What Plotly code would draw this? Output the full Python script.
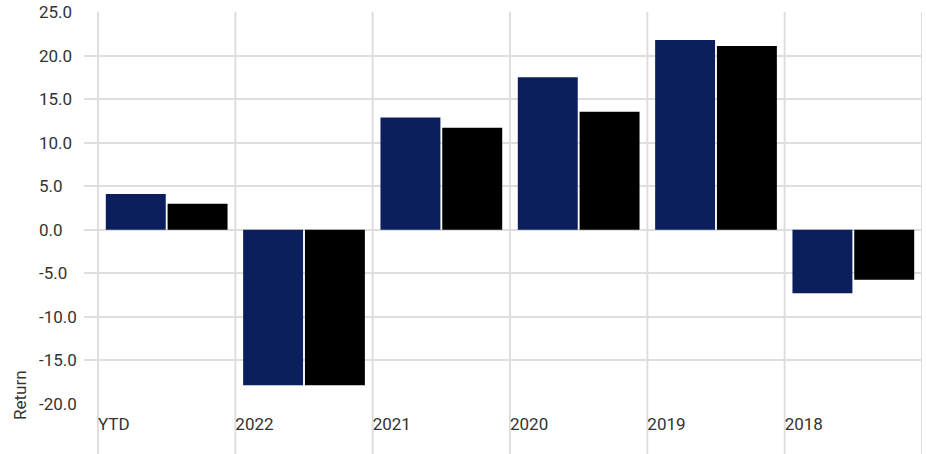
import plotly.graph_objects as go

categories = ["YTD", "2022", "2021", "2020", "2019", "2018"]
fund_returns = [4.1, -17.85, 12.9, 17.5, 21.8, -7.3]
index_returns = [3.0, -17.85, 11.7, 13.55, 21.1, -5.75]
y_ticks = [-20, -15, -10, -5, 0, 5, 10, 15, 20, 25]

FONT = "Roboto, sans-serif"
SIZE = 17
GRID = "#dedede"
TEXT = "#333333"

x_pos = list(range(len(categories)))
boundaries = [i - 0.5 for i in range(len(categories) + 1)]

fig = go.Figure()
fig.add_trace(go.Bar(x=x_pos, y=fund_returns, marker=dict(color="#0b1f5e", line=dict(width=0)), name="Fund"))
fig.add_trace(go.Bar(x=x_pos, y=index_returns, marker=dict(color="#000000", line=dict(width=0)), name="Index"))

# category separators that run past the bottom of the plot area
for b in boundaries:
    fig.add_shape(type="line", xref="x", yref="paper", x0=b, x1=b, y0=-0.2, y1=1,
                  line=dict(color=GRID, width=2), layer="below")

# left-aligned value labels for the y axis
annotations = [
    dict(text=f"{v:.1f}", xref="paper", yref="y", x=-0.0561, y=v,
         xanchor="left", yanchor="middle", showarrow=False,
         font=dict(family=FONT, size=SIZE, color=TEXT))
    for v in y_ticks
]
annotations.append(
    dict(text="Return", xref="paper", yref="paper", x=-0.0764, y=0.023,
         textangle=-90, showarrow=False, xanchor="center", yanchor="middle",
         font=dict(family=FONT, size=SIZE, color=TEXT))
)

fig.update_layout(
    width=926, height=454,
    margin=dict(l=84, r=4, t=12, b=50),
    paper_bgcolor="white", plot_bgcolor="white",
    barmode="group", bargap=0.1, bargroupgap=0.03,
    showlegend=False,
    font=dict(family=FONT, size=SIZE, color=TEXT),
    xaxis=dict(
        range=[-0.602, boundaries[-1]],
        tickvals=boundaries[:-1], ticktext=categories,
        ticklabelposition="outside right",
        showgrid=False, zeroline=False, showline=False, ticks="",
        ticklabelstandoff=8,
    ),
    yaxis=dict(
        range=[y_ticks[0], y_ticks[-1]], tickvals=y_ticks, showticklabels=False,
        showgrid=True, gridcolor=GRID, gridwidth=2,
        zeroline=True, zerolinecolor=GRID, zerolinewidth=2,
        showline=False, ticks="",
    ),
    annotations=annotations,
)

fig.write_html("out.html")
